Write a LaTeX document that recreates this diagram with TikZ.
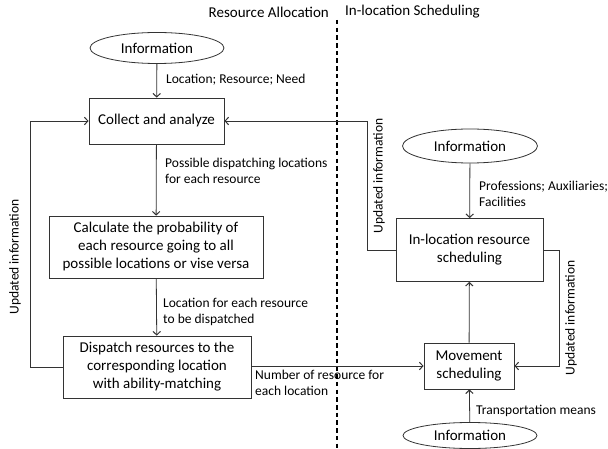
\documentclass[tikz,border=0pt]{standalone}
\usepackage{fontspec}
\setmainfont{Carlito}
\usetikzlibrary{arrows.meta,shapes.geometric}
\begin{document}
\begin{tikzpicture}[x=1pt,y=-1pt,
  boxtext/.style={font=\fontsize{15}{18}\selectfont},
  lbl/.style={font=\fontsize{13.5}{16.5}\selectfont, inner sep=0pt, align=left},
  procbox/.style={draw=black!80, line width=0.8pt, rectangle, boxtext, align=center, inner sep=0pt},
  infoell/.style={draw=black!80, line width=0.8pt, ellipse, boxtext, inner sep=0pt},
  conn/.style={draw=black!80, line width=0.8pt},
  arr/.style={conn, -{Straight Barb[length=3.5pt,width=7.5pt,line width=1pt]}},
  divider/.style={draw=black, line width=1.4pt, dash pattern=on 4.5pt off 3.2pt}
]
\useasboundingbox (0,0) rectangle (608,449);

% titles
\node[boxtext, anchor=east, inner sep=0pt] (t1) at (329,12) {Resource Allocation};
\node[boxtext, anchor=west, inner sep=0pt] (t2) at (345,12) {In-location Scheduling};
\coordinate (dtop) at (337,20);
\coordinate (dbot) at (337,449);
\draw[divider] (dtop) -- (dbot);

% nodes
\node[infoell, minimum width=134, minimum height=31] (info1) at (157,48) {Information};
\node[procbox, minimum width=135, minimum height=46] (collect) at (156.5,121) {Collect and analyze};
\node[procbox, minimum width=214, minimum height=62] (calc) at (156,247) {Calculate the probability of\\each resource going to all\\possible locations or vise versa};
\node[procbox, minimum width=188, minimum height=62] (disp) at (157,367) {Dispatch resources to the\\corresponding location\\with ability-matching};
\node[infoell, minimum width=135, minimum height=34] (info2) at (470,146) {Information};
\node[procbox, minimum width=147, minimum height=63] (inloc) at (469.5,250) {In-location resource\\scheduling};
\node[procbox, minimum width=90, minimum height=46] (move) at (469,366) {Movement\\scheduling};
\node[infoell, minimum width=134, minimum height=26] (info3) at (470,435.5) {Information};

% corner coordinates
\coordinate (lb) at (30,367);
\coordinate (lt) at (30,121);
\coordinate (mb) at (367,250);
\coordinate (mt) at (367,121);
\coordinate (rt) at (559,250);
\coordinate (rb) at (559,366);

% connectors
\draw[arr] (info1) -- (collect);
\draw[arr] (collect) -- (calc);
\draw[arr] (calc) -- (disp);
\draw[arr] (disp.west) -- (lb) -- (lt) -- (collect.west);
\draw[arr] (inloc.west) -- (mb) -- (mt) -- (collect.east);
\draw[arr] (info2) -- (inloc);
\draw[arr] (move) -- (inloc);
\draw[arr] (info3) -- (move);
\draw[arr] (disp.east |- move.west) -- (move.west);
\draw[arr] (inloc.east) -- (rt) -- (rb) -- (move.east);

% labels
\node[lbl, anchor=west] (l1) at (166,80) {Location; Resource; Need};
\node[lbl, anchor=west] (l2) at (165,171) {Possible dispatching locations\\for each resource};
\node[lbl, anchor=west] (l3) at (163,312) {Location for each resource\\to be dispatched};
\node[lbl, anchor=west] (l4) at (255,383) {Number of resource for\\each location};
\node[lbl, anchor=west] (l5) at (479,194) {Professions; Auxiliaries;\\Facilities};
\node[lbl, anchor=west] (l6) at (476,411) {Transportation means};
\node[lbl, rotate=90] (l7) at (15,257) {Updated information};
\node[lbl, rotate=90] (l8) at (379,176) {Updated information};
\node[lbl, rotate=90] (l9) at (571,318) {Updated information};
\end{tikzpicture}
\end{document}
